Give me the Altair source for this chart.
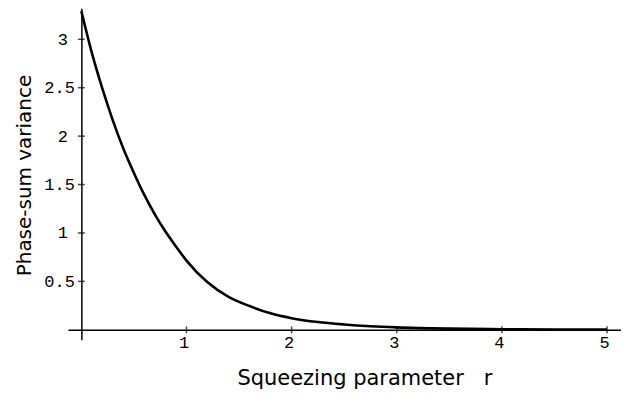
import altair as alt
import pandas as pd

# curve
r_vals = [0.0, 0.1, 0.2, 0.3, 0.4, 0.5, 0.6, 0.7, 0.8, 0.9, 1.0, 1.2, 1.4, 1.6, 1.8, 2.0, 2.25, 2.5, 2.75, 3.0, 3.5, 4.0, 4.5, 5.0]
v_vals = [3.29, 2.86, 2.49, 2.16, 1.87, 1.62, 1.39, 1.19, 1.015, 0.86, 0.715, 0.49, 0.34, 0.245, 0.17, 0.12, 0.08, 0.055, 0.037, 0.025, 0.012, 0.006, 0.003, 0.0015]

x_ticks = [1, 2, 3, 4, 5]
y_ticks = [0.5, 1, 1.5, 2, 2.5, 3]

curve = pd.DataFrame({"r": r_vals, "v": v_vals})
xt = pd.DataFrame({"r": x_ticks, "v": [0] * len(x_ticks)})
yt = pd.DataFrame({"r": [0] * len(y_ticks), "v": y_ticks})

xs = alt.Scale(domain=[-0.128, 5.133], nice=False, zero=False)
ys = alt.Scale(domain=[-0.103, 3.32], nice=False, zero=False)

NB = "\u00a0"

xaxis = alt.Axis(
    values=x_ticks, offset=-10, ticks=False, tickSize=0, grid=False,
    domainColor="black", domainWidth=1.5,
    labelFont="Liberation Mono", labelFontSize=17, labelColor="black",
    labelPadding=5, labelOffset=-3, labelBaseline="top",
    labelExpr="datum.value + ''",
    title="Squeezing parameter" + NB * 3 + "r", titleFont="DejaVu Sans", titleFontSize=21,
    titleFontWeight="normal", titleColor="black",
    titleX=297, titleY=55, titleBaseline="alphabetic", titleAlign="center",
)
yaxis = alt.Axis(
    values=y_ticks, offset=-13.5, ticks=False, tickSize=0, grid=False,
    domainColor="black", domainWidth=1.5,
    labelFont="Liberation Mono", labelFontSize=17, labelColor="black",
    labelPadding={"condition": {"test": "datum.value % 1 == 0", "value": 14}, "value": 7},
    labelBaseline="middle",
    labelExpr="datum.value + ''",
    title="Phase-sum variance", titleFont="DejaVu Sans", titleFontSize=20,
    titleFontWeight="normal", titleColor="black", titleAngle=-90,
    titleX=-51, titleY=167, titleBaseline="alphabetic", titleAlign="center",
)

xenc = alt.X("r:Q", scale=xs, axis=xaxis)
yenc = alt.Y("v:Q", scale=ys, axis=yaxis)

line = alt.Chart(curve).mark_line(color="black", strokeWidth=2.6, interpolate="monotone").encode(x=xenc, y=yenc)
xtick = alt.Chart(xt).mark_tick(orient="vertical", size=7, thickness=1.5, color="black").encode(x=xenc, y=yenc)
ytick = alt.Chart(yt).mark_tick(orient="horizontal", size=7, thickness=1.5, color="black").encode(x=xenc, y=yenc)

chart = alt.layer(xtick, ytick, line).properties(
    width=554, height=332,
    background="white",
    autosize=alt.AutoSizeParams(type="none"),
    padding={"left": 60, "top": 0, "right": 0, "bottom": 52},
).configure_view(stroke=None)

chart.save("out.html", embed_options={"renderer": "svg", "actions": False})
